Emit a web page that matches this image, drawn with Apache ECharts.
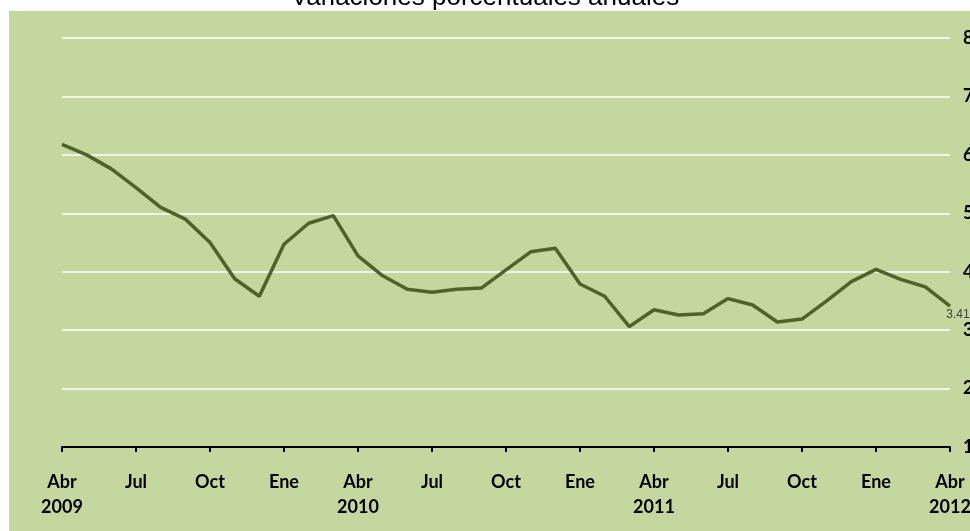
<!DOCTYPE html>
<html>
<head>
<meta charset="utf-8">
<script src="https://cdn.jsdelivr.net/npm/echarts@6/dist/echarts.min.js"></script>
<style>
html,body{margin:0;padding:0;background:#ffffff;}
#chart{width:970px;height:531px;}
</style>
</head>
<body>
<div id="chart"></div>
<script>
const titleText = "Variaciones porcentuales anuales";
const categories = [
  "Abr\n2009","May","Jun","Jul","Ago","Sep","Oct","Nov","Dic",
  "Ene","Feb","Mar","Abr\n2010","May","Jun","Jul","Ago","Sep","Oct","Nov","Dic",
  "Ene","Feb","Mar","Abr\n2011","May","Jun","Jul","Ago","Sep","Oct","Nov","Dic",
  "Ene","Feb","Mar","Abr\n2012"
];
const values = [
  6.18, 6.00, 5.76, 5.44, 5.10, 4.90, 4.50, 3.88, 3.58,
  4.47, 4.83, 4.96, 4.27, 3.93, 3.70, 3.65, 3.70, 3.72, 4.03, 4.34, 4.40,
  3.79, 3.58, 3.06, 3.35, 3.26, 3.28, 3.54, 3.43, 3.14, 3.19, 3.50, 3.83,
  4.04, 3.87, 3.74, 3.41
];
const yTicks = { min: 1, max: 8, interval: 1 };

const chart = echarts.init(document.getElementById('chart'), null, {renderer: 'canvas'});
const last = values.length - 1;
const seriesData = values.map((v, i) => i === last ? {
  value: v,
  label: {
    show: true, position: 'bottom', distance: 3, offset: [8, 0],
    formatter: '{c}', color: '#404040', fontSize: 12,
    fontFamily: 'Liberation Sans, Arial, sans-serif'
  }
} : v);

chart.setOption({
  animation: false,
  backgroundColor: '#ffffff',
  graphic: [{
    type: 'rect', z: -10, silent: true,
    shape: { x: 9, y: 11, width: 970, height: 531 },
    style: { fill: '#c4d79f' }
  }],
  title: {
    text: titleText, left: 'center', top: -20,
    textStyle: { fontFamily: 'Liberation Sans, Arial, sans-serif', fontWeight: 'normal', fontSize: 26, color: '#000000' }
  },
  grid: { left: 62, right: 20, top: 38, bottom: 84, outerBoundsMode: 'none', containLabel: false },
  xAxis: {
    type: 'category', data: categories, boundaryGap: false,
    axisLine: { show: true, lineStyle: { color: '#000000', width: 2 } },
    axisTick: { show: true, interval: 2, length: 5, lineStyle: { color: '#000000', width: 2 } },
    axisLabel: {
      interval: 2, margin: 23, color: '#000000', fontWeight: 'bold', fontSize: 18,
      lineHeight: 25, fontFamily: 'Lato, Carlito, sans-serif', hideOverlap: false
    },
    splitLine: { show: false }
  },
  yAxis: {
    type: 'value', position: 'right', min: yTicks.min, max: yTicks.max, interval: yTicks.interval,
    axisLine: { show: false }, axisTick: { show: false },
    axisLabel: { margin: 13, color: '#000000', fontWeight: 'bold', fontSize: 18, fontFamily: 'Lato, Carlito, sans-serif' },
    splitLine: { show: true, lineStyle: { color: '#ffffff', width: 1.5 } }
  },
  series: [{
    type: 'line', data: seriesData, showSymbol: true, symbol: 'circle', symbolSize: 0,
    lineStyle: { color: '#4f6228', width: 3.5 },
    itemStyle: { color: '#4f6228' }
  }]
});
</script>
</body>
</html>
